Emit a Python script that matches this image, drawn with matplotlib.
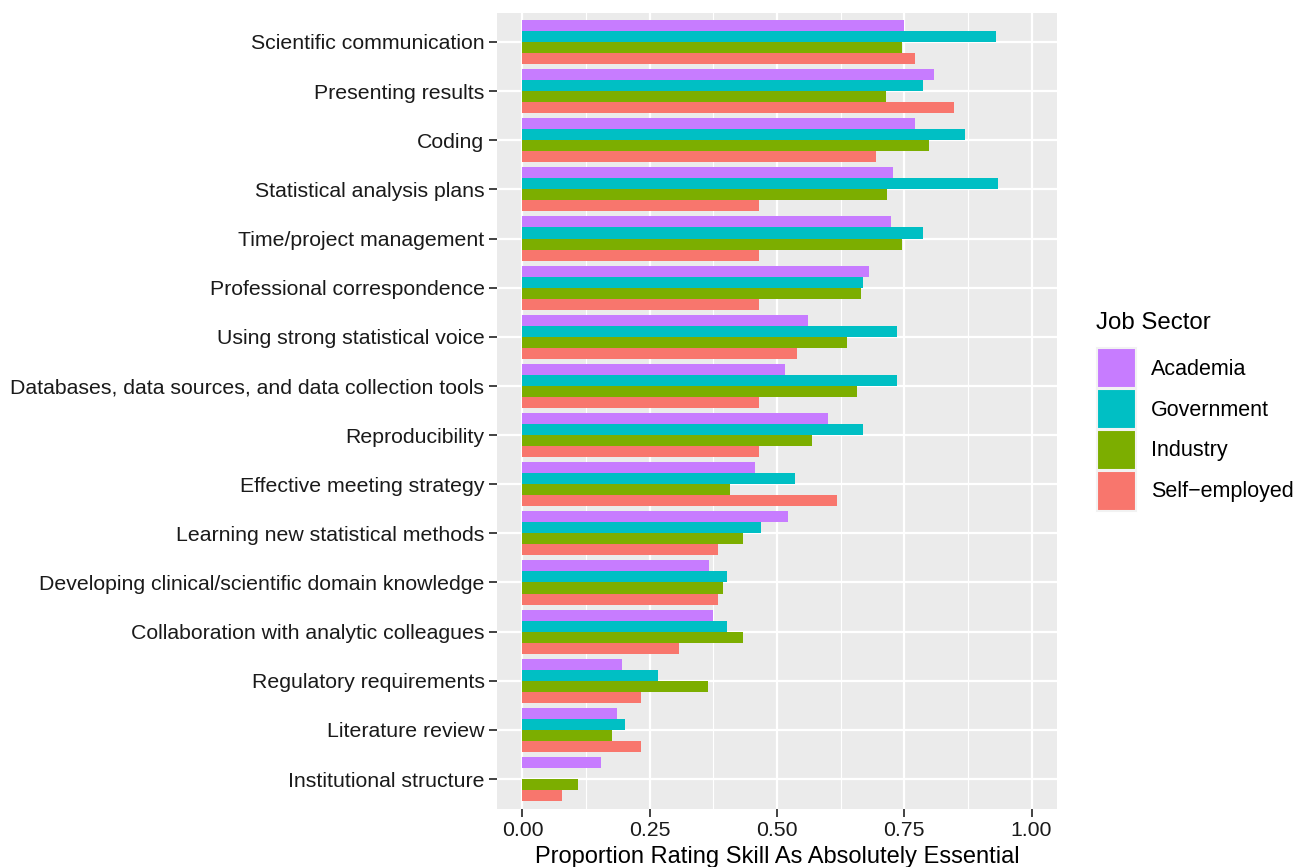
import matplotlib
matplotlib.use("Agg")
import matplotlib.pyplot as plt
import numpy as np
from matplotlib.patches import Patch

plt.rcParams['font.family'] = ['Liberation Sans', 'DejaVu Sans']

skills = [
    "Scientific communication",
    "Presenting results",
    "Coding",
    "Statistical analysis plans",
    "Time/project management",
    "Professional correspondence",
    "Using strong statistical voice",
    "Databases, data sources, and data collection tools",
    "Reproducibility",
    "Effective meeting strategy",
    "Learning new statistical methods",
    "Developing clinical/scientific domain knowledge",
    "Collaboration with analytic colleagues",
    "Regulatory requirements",
    "Literature review",
    "Institutional structure",
]

academia = [0.749, 0.808, 0.771, 0.727, 0.724, 0.680, 0.560, 0.515,
            0.601, 0.456, 0.521, 0.367, 0.375, 0.196, 0.185, 0.155]
government = [0.930, 0.786, 0.869, 0.934, 0.786, 0.668, 0.736, 0.736,
              0.668, 0.535, 0.468, 0.401, 0.401, 0.267, 0.202, 0.0]
industry = [0.746, 0.714, 0.798, 0.717, 0.746, 0.665, 0.637, 0.658,
            0.568, 0.407, 0.434, 0.393, 0.434, 0.365, 0.176, 0.109]
self_employed = [0.771, 0.847, 0.694, 0.464, 0.464, 0.464, 0.540, 0.464,
                 0.464, 0.618, 0.385, 0.385, 0.308, 0.232, 0.232, 0.078]

sectors = ["Academia", "Government", "Industry", "Self\u2212employed"]
colors = ["#C77CFF", "#00BFC4", "#7CAE00", "#F8766D"]

W, H = 1303, 867
fig = plt.figure(figsize=(W / 100, H / 100), dpi=100)
ax = fig.add_axes([497 / W, 1 - 808.5 / H, 560 / W, 796 / H])
ax.set_facecolor("#EBEBEB")

n = len(skills)
ypos = np.arange(n)[::-1]
h = 0.9 / 4
offsets = [1.5 * h, 0.5 * h, -0.5 * h, -1.5 * h]
series = [academia, government, industry, self_employed]
for vals, off, col in zip(series, offsets, colors):
    ax.barh(ypos + off, vals, height=h, color=col, linewidth=0, zorder=3)

ax.set_xlim(-0.05, 1.05)
ax.set_ylim(-0.6, n - 1 + 0.6)
ax.set_xticks([0, 0.25, 0.5, 0.75, 1.0])
ax.set_xticklabels(["0.00", "0.25", "0.50", "0.75", "1.00"])
ax.set_xticks([0.125, 0.375, 0.625, 0.875], minor=True)
ax.set_yticks(ypos)
ax.set_yticklabels(skills)

ax.grid(True, which="major", color="white", linewidth=1.6, zorder=1)
ax.grid(True, which="minor", axis="x", color="white", linewidth=0.8, zorder=1)
for s in ax.spines.values():
    s.set_visible(False)
ax.tick_params(axis="both", which="major", length=6, width=1.3, color="#333333",
               labelsize=15.3, labelcolor="#1a1a1a", pad=3)
ax.tick_params(axis="both", which="minor", length=0)

ax.set_xlabel("Proportion Rating Skill As Absolutely Essential", fontsize=17,
              color="black", labelpad=4)

# legend
fig.text(1096 / W, 1 - 323 / H, "Job Sector", fontsize=17.3, ha="left",
         va="center")
handles = [Patch(facecolor=c, edgecolor="#F2F2F2", linewidth=1.5) for c in colors]
leg = fig.legend(handles, sectors, loc="upper left",
                 bbox_to_anchor=(1097 / W, 1 - 348 / H),
                 frameon=False, fontsize=15.5, handlelength=1.8,
                 handleheight=2.5, labelspacing=0.03, handletextpad=0.7,
                 borderaxespad=0, borderpad=0)

fig.savefig("out.png", dpi=100)
